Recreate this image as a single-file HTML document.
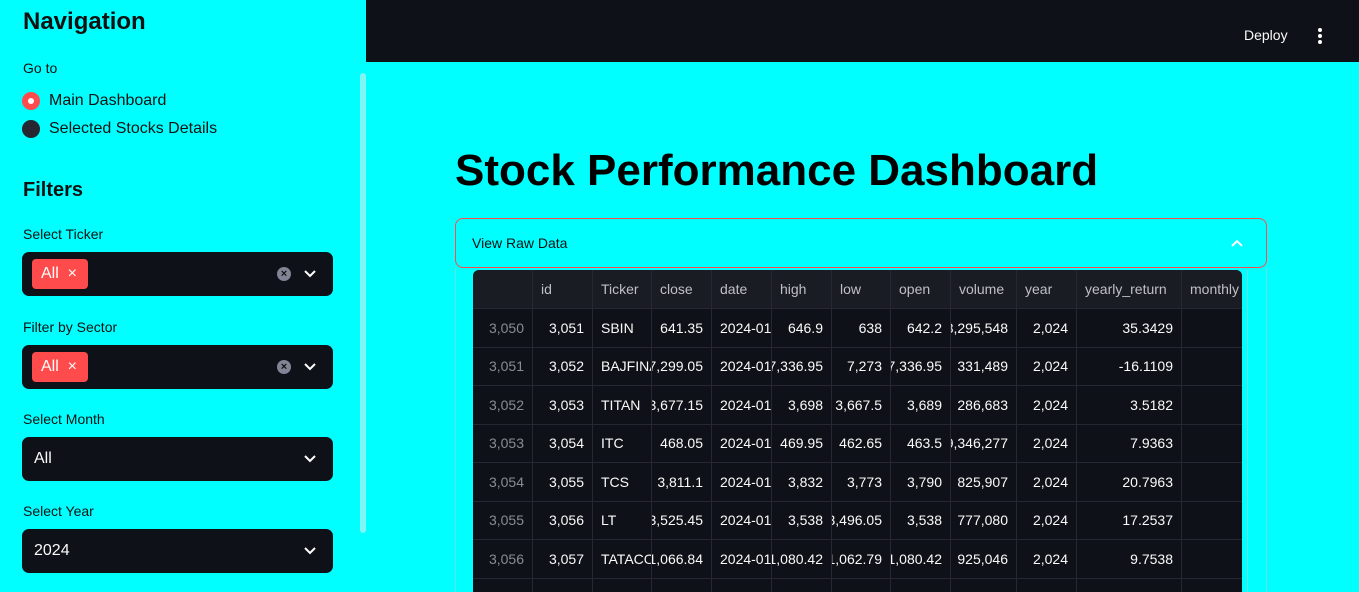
<!DOCTYPE html>
<html><head><meta charset="utf-8"><style>
*{box-sizing:border-box;margin:0;padding:0}
html,body{width:1359px;height:592px;overflow:hidden}
body{background:#00ffff;font-family:"Liberation Sans",sans-serif;position:relative;color:#111}
.abs{position:absolute}
.lbl{position:absolute;left:23px;font-size:14px;color:#111}
.sel{position:absolute;left:22px;width:311px;height:44px;background:#0e1117;border-radius:7px}
.tag{position:absolute;left:10px;top:7px;width:56px;height:30px;background:#ff4b4b;border-radius:4px;color:#fff;font-size:16px;line-height:30px;padding-left:9px}
.chev{position:absolute;right:16px;top:15px}
.clr{position:absolute;right:42px;top:15px;width:14px;height:14px;border-radius:50%;background:#808495;color:#111;font-size:11px;line-height:14px;text-align:center;font-weight:bold}
.tbl{position:absolute;left:473px;top:270px;width:769px;height:322px;background:#0e1117;overflow:hidden;border-radius:6px 6px 0 0}
.c{position:absolute;height:38.5px;display:flex;align-items:center;overflow:hidden;white-space:nowrap;font-size:14px;color:#fafafa;border-right:1px solid #262730;border-bottom:1px solid #262730;padding:0 8px}
.r{justify-content:flex-end}
.h{background:#1a1c24;color:#bfc0c6;height:39px}
</style></head><body>
<div class="abs" style="left:366px;top:0;width:993px;height:62px;background:#0e1117"></div>
<div class="abs" style="left:1244px;top:27px;color:#fafafa;font-size:14px">Deploy</div>
<div class="abs" style="left:1318px;top:28px;width:4px">
<div style="width:4px;height:4px;border-radius:50%;background:#fff;margin-bottom:2px"></div><div style="width:4px;height:4px;border-radius:50%;background:#fff;margin-bottom:2px"></div><div style="width:4px;height:4px;border-radius:50%;background:#fff"></div></div>
<div class="abs" style="left:360px;top:73px;width:6px;height:460px;background:#7ff5f5;border-radius:3px"></div>

<div class="abs" style="left:23px;top:8px;font-size:24px;font-weight:bold">Navigation</div>
<div class="lbl" style="top:60px">Go to</div>
<div class="abs" style="left:22px;top:92px;width:18px;height:18px;border-radius:50%;background:#ff4b4b"><div style="width:6px;height:6px;border-radius:50%;background:#fff;margin:6px"></div></div>
<div class="abs" style="left:49px;top:92px;font-size:16px">Main Dashboard</div>
<div class="abs" style="left:22px;top:120px;width:18px;height:18px;border-radius:50%;background:#262730"></div>
<div class="abs" style="left:49px;top:120px;font-size:16px">Selected Stocks Details</div>
<div class="abs" style="left:23px;top:179px;font-size:20px;font-weight:bold">Filters</div>

<div class="lbl" style="top:226px">Select Ticker</div>
<div class="sel" style="top:252px"><div class="tag">All&nbsp;&nbsp;×</div><div class="clr">×</div><svg class="chev" width="14" height="14"><path d="M2 4l5 5 5-5" stroke="#fff" stroke-width="2" fill="none"/></svg></div>
<div class="lbl" style="top:319px">Filter by Sector</div>
<div class="sel" style="top:345px"><div class="tag">All&nbsp;&nbsp;×</div><div class="clr">×</div><svg class="chev" width="14" height="14"><path d="M2 4l5 5 5-5" stroke="#fff" stroke-width="2" fill="none"/></svg></div>
<div class="lbl" style="top:411px">Select Month</div>
<div class="sel" style="top:437px"><div style="position:absolute;left:12px;top:13px;color:#fafafa;font-size:16px">All</div><svg class="chev" width="14" height="14"><path d="M2 4l5 5 5-5" stroke="#fff" stroke-width="2" fill="none"/></svg></div>
<div class="lbl" style="top:503px">Select Year</div>
<div class="sel" style="top:529px"><div style="position:absolute;left:12px;top:13px;color:#fafafa;font-size:16px">2024</div><svg class="chev" width="14" height="14"><path d="M2 4l5 5 5-5" stroke="#fff" stroke-width="2" fill="none"/></svg></div>

<div class="abs" style="left:455px;top:146px;font-size:44px;font-weight:bold;color:#000">Stock Performance Dashboard</div>
<div class="abs" style="left:455px;top:218px;width:812px;height:50px;border:1px solid #ff4b4b;border-radius:8px"><div style="position:absolute;left:16px;top:16px;font-size:14px">View Raw Data</div><svg style="position:absolute;right:22px;top:18px" width="14" height="12"><path d="M2 9l5-5 5 5" stroke="#fff" stroke-width="2" fill="none"/></svg></div>
<div class="abs" style="left:455px;top:268px;width:812px;height:324px;border-left:1px solid #66e0e0;border-right:1px solid #66e0e0"></div>
<div class="abs" style="left:1247px;top:270px;width:1px;height:322px;background:#66e0e0"></div>
<div class="tbl" id="tbl"></div>
<script>
const cols=["","id","Ticker","close","date","high","low","open","volume","year","yearly_return","monthly"];
const edges=[0,60,120,179,239,299,359,418,478,544,604,709,790];
const rows=[
["3,050","3,051","SBIN","641.35","2024-01","646.9","638","642.2","3,295,548","2,024","35.3429",""],
["3,051","3,052","BAJFINANCE","7,299.05","2024-01","7,336.95","7,273","7,336.95","331,489","2,024","-16.1109",""],
["3,052","3,053","TITAN","3,677.15","2024-01","3,698","3,667.5","3,689","286,683","2,024","3.5182",""],
["3,053","3,054","ITC","468.05","2024-01","469.95","462.65","463.5","9,346,277","2,024","7.9363",""],
["3,054","3,055","TCS","3,811.1","2024-01","3,832","3,773","3,790","825,907","2,024","20.7963",""],
["3,055","3,056","LT","3,525.45","2024-01","3,538","3,496.05","3,538","777,080","2,024","17.2537",""],
["3,056","3,057","TATACONSUM","1,066.84","2024-01","1,080.42","1,062.79","1,080.42","925,046","2,024","9.7538",""],
["","","","","","","","","","","",""]];
const leftCols=[2,4];
const t=document.getElementById('tbl');
function cell(txt,i,top,head){const d=document.createElement('div');


d.className='c'+(head?' h':'')+(!head&&!leftCols.includes(i)?' r':'');
d.style.left=edges[i]+'px';d.style.top=top+'px';d.style.width=(edges[i+1]-edges[i])+'px';
if(!head&&i===0)d.style.color='#8a8c94';
const s=document.createElement('span');s.textContent=txt;d.appendChild(s);t.appendChild(d);}
cols.forEach((c,i)=>cell(c,i,0,true));
rows.forEach((r,ri)=>r.forEach((v,i)=>cell(v,i,39+ri*38.5,false)));
</script>
</body></html>
